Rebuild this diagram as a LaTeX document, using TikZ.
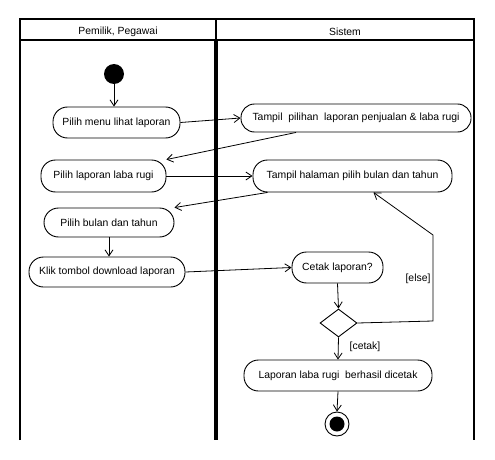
\documentclass[tikz,border=0pt]{standalone}
\usepackage{fontspec}
\setmainfont{Liberation Sans}
\usetikzlibrary{arrows.meta,shapes.geometric,calc}
\tikzset{
  act/.style={draw,rectangle,rounded corners=14.5pt,inner sep=0pt,line width=0.9pt,font=\fontsize{10.4}{12}\selectfont},
  flow/.style={line width=0.8pt,-{Straight Barb[length=6pt,width=8pt]}},
  frame/.style={line width=2pt},
  lbl/.style={font=\fontsize{10.4}{12}\selectfont,inner sep=0pt}
}
\begin{document}
\begin{tikzpicture}[x=1pt,y=-1pt]
\useasboundingbox (0,0) rectangle (495,460);
% swimlane frame
\draw[frame] (20,440) -- (20,19) -- (474,19) -- (474,440);
\draw[line width=1.5pt] (20,40) -- (474,40);
\draw[line width=1.5pt] (216,19) -- (216,40);
\draw[line width=4pt] (216,40) -- (216,440);
\node[lbl] (h1) at (118,32) {Pemilik, Pegawai};
\node[lbl] (h2) at (345,32) {Sistem};
% nodes
\node[circle,fill=black,minimum size=20pt,inner sep=0pt] (start) at (114,74) {};
\node[act,minimum width=127pt,minimum height=31pt] (n1) at (116.5,122.5) {Pilih menu lihat laporan};
\node[act,minimum width=230pt,minimum height=28pt,rounded corners=13.5pt] (n2) at (356,118) {Tampil\ \ pilihan\ \ laporan penjualan \& laba rugi};
\node[act,minimum width=125pt,minimum height=32pt] (n3) at (103.5,176) {Pilih laporan laba rugi};
\node[act,minimum width=199pt,minimum height=32pt] (n4) at (352.5,176) {Tampil halaman pilih bulan dan tahun};
\node[act,minimum width=130pt,minimum height=29pt] (n5) at (109,222.5) {Pilih bulan dan tahun};
\node[act,minimum width=156pt,minimum height=30pt] (n6) at (107,272) {Klik tombol download laporan};
\node[act,minimum width=91pt,minimum height=31pt] (n7) at (337.5,267.5) {Cetak laporan?};
\node[draw,diamond,line width=0.9pt,minimum width=37pt,minimum height=28pt,inner sep=0pt,aspect=1.3] (d) at (338.5,323) {};
\node[act,minimum width=188pt,minimum height=31pt] (n8) at (338,375.5) {Laporan laba rugi\ \ berhasil dicetak};
\node[circle,draw,line width=0.9pt,minimum size=24pt,inner sep=0pt] (end) at (337,424) {};
\node[circle,fill=black,minimum size=15pt,inner sep=0pt] (endin) at (end) {};
% connectors
\draw[flow] (start) -- (start |- n1.north);
\draw[flow] (n1.east) -- (n2.west);
\coordinate (a2) at ($(n2.south)+(-60,0)$);
\draw[flow] (a2) -- (n3.north east);
\draw[flow] (n3.east) -- (n4.west);
\coordinate (a4) at ($(n4.south)+(-85,0)$);
\draw[flow] (a4) -- (n5.north east);
\draw[flow] (n5.south) -- (n5.south |- n6.north);
\draw[flow] (n6.east) -- (n7.west);
\draw[flow] (n7.south) -- (d.north);
\coordinate (e1) at (433,321);
\coordinate (e2) at (433,235);
\coordinate (e3) at ($(n4.south)+(21,0)$);
\draw[flow] (d.east) -- (e1) -- (e2) -- (e3);
\node[lbl] (else) at (418,279) {[else]};
\draw[flow] (d.south) -- (n8.north);
\node[lbl] (cetak) at (365,347) {[cetak]};
\draw[flow] (n8.south) -- (end.north);
\end{tikzpicture}
\end{document}
